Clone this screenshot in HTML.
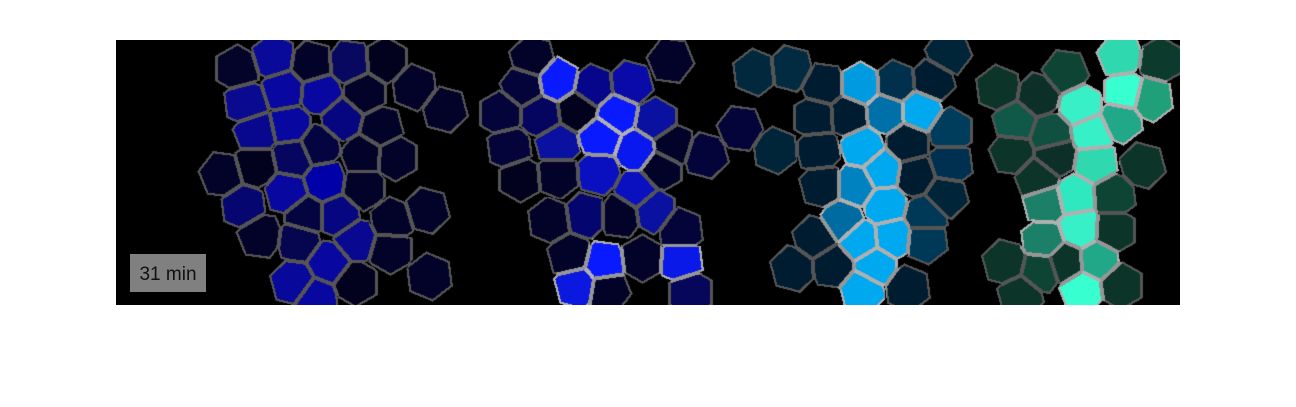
<!DOCTYPE html>
<html><head><meta charset="utf-8">
<style>
html,body{margin:0;padding:0;background:#fff;}
body{width:1296px;height:407px;position:relative;overflow:hidden;font-family:"Liberation Sans",sans-serif;}
#cv{position:absolute;left:116px;top:40px;}
svg{position:absolute;left:0;top:0;}
</style></head>
<body>
<canvas id="cv" width="1064" height="265"></canvas>
<svg id="chart" width="1296" height="407">
<rect x="130" y="254" width="76" height="38" fill="#808080"/>
<text x="168" y="280" font-size="19" fill="#111" text-anchor="middle" font-family="Liberation Sans, sans-serif">31 min</text>
</svg>
<script>
// cell centers (x,y) and fill colors per panel
const cellX = [237,273,311,349,385,246,283,320,364,414,444,256,289,342,380,222,255,293,318,363,395,243,287,324,363,392,426,260,305,338,298,355,390,429,293,329,355,315,
532,523,557,593,630,670,501,540,577,617,655,509,557,600,636,672,705,740,520,557,598,636,660,550,585,620,653,680,570,603,642,680,577,607,690,
755,790,823,860,895,932,948,815,848,885,920,950,775,818,862,907,950,822,855,882,915,945,842,885,925,815,860,892,925,793,832,875,907,862,
1120,1160,998,1038,1065,1125,1150,1015,1050,1080,1120,1092,1012,1055,1095,1142,1037,1075,1113,1045,1080,1113,1043,1005,1040,1065,1097,1020,1082,1120];
const cellY = [68,57,63,62,60,102,90,93,93,87,109,132,125,118,127,174,165,157,146,155,157,206,192,181,187,220,210,235,215,215,240,240,250,276,282,262,282,298,
58,86,80,87,83,60,113,115,110,113,120,147,144,137,150,145,155,128,178,175,172,190,168,220,215,215,210,230,255,263,258,260,285,290,292,
72,68,85,85,83,80,52,117,115,112,110,130,150,150,147,143,163,185,185,170,175,195,220,205,215,238,240,237,240,268,265,265,288,290,
55,60,88,95,72,92,98,122,134,105,120,133,152,155,162,165,178,196,195,203,228,230,240,262,270,262,260,295,290,285];
const cellColor = ["#04042a","#0a0a9a","#03032a","#080860","#02021e","#0a0a90","#0808a0","#0808a0","#03032a","#03032a","#03032a","#08088f","#0808a0","#060680","#03032a","#03032a","#02021e","#060660","#040440","#03032a","#03032a","#060670","#0808a0","#0000a8","#03032a","#03032a","#03032a","#03032a","#040440","#060680","#050550","#080890","#03032a","#03032a","#08089a","#0808a0","#02021e","#0808a0",
"#03032a","#04043a","#0a1aff","#06068a","#0a0aa8","#03032a","#04043a","#050560","#02021e","#0a1aff","#0a10a0","#04043a","#0a10a0","#0a1aff","#0a18f0","#03032a","#04043a","#04043a","#02021e","#03032a","#0a10c0","#0a10c0","#03032a","#03032a","#050570","#03032a","#0a10a0","#04043a","#03032a","#0a1aff","#03032a","#0a18e8","#0a18e0","#03032a","#06065a",
"#02283e","#022a40","#001c30","#009ae0","#00304c","#001c30","#002438","#001c30","#001c30","#0070a8","#00a8f0","#003c5c","#002438","#001c30","#00a8f0","#001c30","#003050","#001c30","#0082c0","#00a8f0","#001c30","#002438","#006ba0","#00a8f0","#003858","#001c30","#00a8f0","#00a8f0","#003858","#001c30","#001c30","#00a8f0","#001c30","#00a8f0",
"#30d8b0","#0c3a2c","#0c3428","#0c3028","#0e4434","#38ffd0","#20a078","#105848","#105040","#38f0c8","#20a888","#38f0c8","#0c3428","#0c3028","#30d8b0","#0c3428","#0c3428","#30e8c0","#0e4434","#1c8068","#38f0c8","#0c3428","#1c8068","#0c3428","#0e4434","#0c3428","#20a888","#0c3428","#38ffd0","#0c3428"];

const OX = 116, OY = 40, W = 1064, H = 265, R = 22;
const cv = document.getElementById('cv');
const ctx = cv.getContext('2d');
const img = ctx.createImageData(W, H);
const n = cellX.length;
const rgb = cellColor.map(c => [parseInt(c.substr(1,2),16), parseInt(c.substr(3,2),16), parseInt(c.substr(5,2),16)]);
const bright = rgb.map(c => c[0]+c[1]+c[2] > 250);
const dirs = [[1,0],[0.5,0.866],[-0.5,0.866]];
function hexd(dx, dy, i) {
  const rot = (i % 4) * 0.13;
  const c = Math.cos(rot), s = Math.sin(rot);
  const ux = dx*c - dy*s, uy = dx*s + dy*c;
  let m = 0;
  for (const d of dirs) { const v = Math.abs(ux*d[0] + uy*d[1]); if (v > m) m = v; }
  return m;
}
for (let y = 0; y < H; y++) {
  const py = y + OY;
  for (let x = 0; x < W; x++) {
    const px = x + OX;
    let d1 = 1e9, d2 = 1e9, i1 = -1, i2 = -1;
    for (let i = 0; i < n; i++) {
      const dx = px - cellX[i];
      if (dx > 40 || dx < -40) continue;
      const dy = py - cellY[i];
      const d = dx*dx + dy*dy;
      if (d < d1) { d2 = d1; i2 = i1; d1 = d; i1 = i; }
      else if (d < d2) { d2 = d; i2 = i; }
    }
    let col = [0,0,0];
    if (i1 >= 0) {
      const s1 = hexd(px - cellX[i1], py - cellY[i1], i1);
      if (s1 <= R) {
        let edge = 1e9, s2 = 1e9;
        if (i2 >= 0) {
          const ex = cellX[i2]-cellX[i1], ey = cellY[i2]-cellY[i1];
          const L = Math.sqrt(ex*ex+ey*ey);
          edge = (d2 - d1) / (2*L);
          s2 = hexd(px - cellX[i2], py - cellY[i2], i2);
        }
        if (edge < 2.0 && s2 <= R + 2) {
          if (bright[i1] && bright[i2]) col = [176,176,176];
          else if (bright[i1] || bright[i2]) col = [150,150,150];
          else col = [85,85,85];
        } else if (s1 > R - 2.2) {
          col = bright[i1] ? [176,176,176] : [85,85,85];
        } else col = rgb[i1];
      }
    }
    const k = (y*W + x)*4;
    img.data[k] = col[0]; img.data[k+1] = col[1]; img.data[k+2] = col[2]; img.data[k+3] = 255;
  }
}
ctx.putImageData(img, 0, 0);
</script>
</body></html>
